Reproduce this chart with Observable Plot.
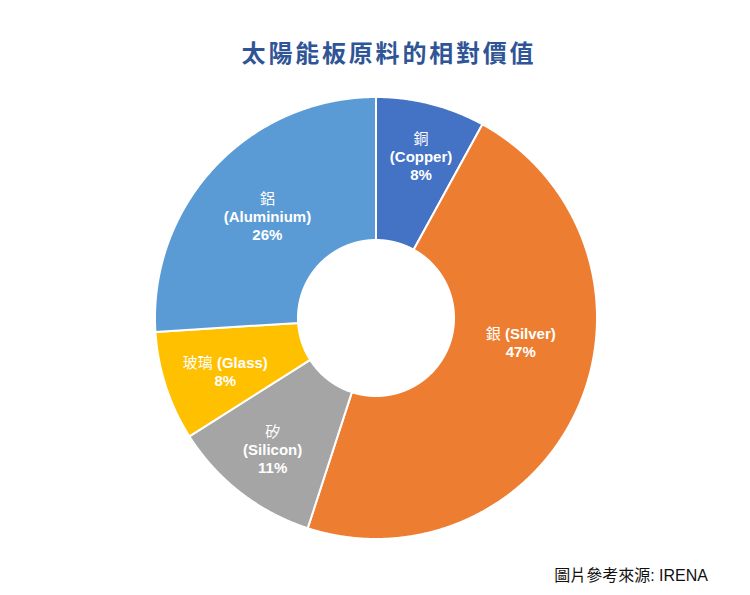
<!DOCTYPE html>
<html>
<head>
<meta charset="utf-8">
<script src="https://cdn.jsdelivr.net/npm/d3@7"></script>
<script src="https://cdn.jsdelivr.net/npm/@observablehq/plot@0.6"></script>
<style>
  html, body { margin: 0; padding: 0; background: #fff; }
  #wrap { width: 750px; height: 595px; overflow: hidden; }
  #title {
    height: 80px; box-sizing: border-box; padding-top: 39px; padding-left: 28px;
    text-align: center; font-family: "Noto Sans CJK TC", sans-serif; font-weight: bold;
    font-size: 24px; line-height: 26px; letter-spacing: 2.8px; color: #2F5597;
  }
  #caption {
    height: 45px; box-sizing: border-box; padding-top: 16px; padding-right: 42px;
    text-align: right; font-family: "Liberation Sans", "Noto Sans CJK TC", sans-serif;
    font-size: 16px; line-height: 20px; color: #111;
  }
  #chart svg { display: block; }
</style>
</head>
<body>
<div id="wrap">
  <div id="title">太陽能板原料的相對價值</div>
  <div id="chart"></div>
  <div id="caption">圖片參考來源: IRENA</div>
</div>
<script>
// ---- data ----
const materials = ["Copper", "Silver", "Silicon", "Glass", "Aluminium"];
const chineseNames = ["銅", "銀", "矽", "玻璃", "鋁"];
const shares = [8, 47, 11, 8, 26];

// ---- styles / layout ----
const palette = ["#4472C4", "#ED7D31", "#A5A5A5", "#FFC000", "#5B9BD5"];
const stackedLabel = [true, false, true, false, true];
const labelNudge = [[8, -17], [8, -35], [-12, 14], [-9, 7], [0, 0]];

const W = 750, H = 470;
const outerR = 221, innerR = 78, labelR = 149;

const arcs = d3.pie().sort(null).value(d => d)(shares);

// Polygon vertices for each ring slice (computed from the pie angles)
const ring = [];
arcs.forEach((a, i) => {
  const n = Math.max(8, Math.ceil((a.endAngle - a.startAngle) / (Math.PI / 720)));
  const pts = [];
  for (let k = 0; k <= n; k++) {
    const t = a.startAngle + (a.endAngle - a.startAngle) * k / n;
    pts.push([outerR * Math.sin(t), outerR * Math.cos(t)]);
  }
  for (let k = n; k >= 0; k--) {
    const t = a.startAngle + (a.endAngle - a.startAngle) * k / n;
    pts.push([innerR * Math.sin(t), innerR * Math.cos(t)]);
  }
  pts.push(pts[0]);
  pts.forEach(([x, y]) => ring.push({material: materials[i], x, y}));
});

const labels = arcs.map((a, i) => {
  const mid = (a.startAngle + a.endAngle) / 2;
  const en = `(${materials[i]})`;
  const pct = `${shares[i]}%`;
  return {
    material: materials[i],
    x: labelR * Math.sin(mid),
    y: labelR * Math.cos(mid),
    text: stackedLabel[i] ? `${chineseNames[i]}\n${en}\n${pct}` : `${chineseNames[i]} ${en}\n${pct}`,
    i
  };
});

const cx = 375.5, cy = 237.5;
const plot = Plot.plot({
  width: W,
  height: H,
  margin: 0,
  x: {domain: [-cx, W - cx], axis: null},
  y: {domain: [-(H - cy), cy], axis: null},
  color: {domain: materials, range: palette},
  style: {background: "white"},
  marks: [
    Plot.line(ring, {x: "x", y: "y", z: "material", fill: "material", stroke: "white", strokeWidth: 2, strokeLinejoin: "round"}),
    ...labels.map(l => Plot.text([l], {
      x: "x", y: "y", text: "text",
      dx: labelNudge[l.i][0], dy: labelNudge[l.i][1],
      fill: "white", fontSize: 15, fontWeight: "bold", lineHeight: 1.2,
      fontFamily: "'Liberation Sans', Arial, 'Noto Sans CJK TC', sans-serif",
      textAnchor: "middle"
    }))
  ]
});
document.getElementById("chart").appendChild(plot);

// CJK characters in the labels are drawn in a regular weight
(function lightenCJK(root) {
  const re = /[\u3400-\u9fff]/;
  const walker = document.createTreeWalker(root, NodeFilter.SHOW_TEXT);
  const nodes = [];
  while (walker.nextNode()) nodes.push(walker.currentNode);
  for (const n of nodes) {
    if (!re.test(n.nodeValue)) continue;
    const frag = document.createDocumentFragment();
    n.nodeValue.split(/([\u3400-\u9fff]+)/).forEach(part => {
      if (!part) return;
      if (re.test(part)) {
        const t = document.createElementNS("http://www.w3.org/2000/svg", "tspan");
        t.setAttribute("font-weight", "normal");
        t.textContent = part;
        frag.appendChild(t);
      } else frag.appendChild(document.createTextNode(part));
    });
    n.parentNode.replaceChild(frag, n);
  }
})(plot);
</script>
</body>
</html>
